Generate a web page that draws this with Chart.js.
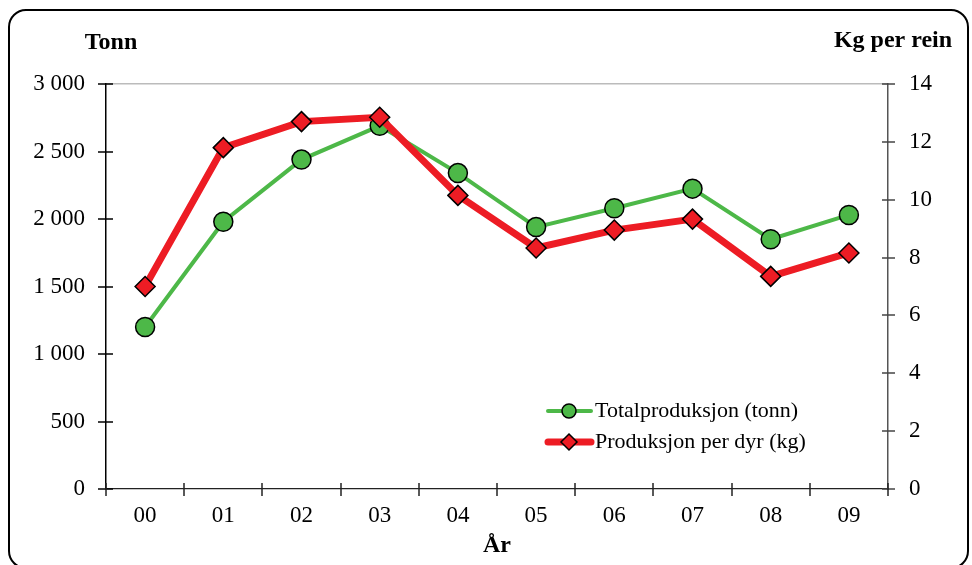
<!DOCTYPE html>
<html>
<head>
<meta charset="utf-8">
<script src="https://cdn.jsdelivr.net/npm/chart.js@4.4.1/dist/chart.umd.min.js"></script>
<style>
  html, body { margin: 0; padding: 0; background: #fff; }
  #wrap { position: relative; width: 972px; height: 565px; overflow: hidden; }
  #frame { position: absolute; left: 8px; top: 9px; width: 961px; height: 560px;
           border: 2px solid #000; border-radius: 18px; box-sizing: border-box; }
  #c { position: absolute; left: 0; top: 0; }
</style>
</head>
<body>
<div id="wrap">
  <div id="frame"></div>
  <canvas id="c" width="972" height="565"></canvas>
</div>
<script>
const years = ["00", "01", "02", "03", "04", "05", "06", "07", "08", "09"];
const totalTonn = [1200, 1980, 2440, 2690, 2340, 1940, 2080, 2225, 1850, 2030];
const kgPerDyr = [7.0, 11.8, 12.7, 12.85, 10.15, 8.33, 8.95, 9.33, 7.35, 8.16];
const leftTicks = [0, 500, 1000, 1500, 2000, 2500, 3000];
const rightTicks = [0, 2, 4, 6, 8, 10, 12, 14];

const GREEN = "#4db848";
const RED = "#ed1c24";
const FONT = "'Liberation Serif', 'Times New Roman', serif";

function fmt(v) {
  return String(v).replace(/\B(?=(\d{3})+(?!\d))/g, " ");
}

// tick marks crossing the axes, axis titles and the legend
const decor = {
  id: "decor",
  afterDraw(chart) {
    const ctx = chart.ctx;
    const { x, y, y1 } = chart.scales;
    ctx.save();
    ctx.lineWidth = 1.5;

    ctx.strokeStyle = "#000";
    leftTicks.forEach((v) => {
      const py = Math.round(y.getPixelForValue(v));
      ctx.beginPath(); ctx.moveTo(y.right - 8, py); ctx.lineTo(y.right + 7, py); ctx.stroke();
    });
    ctx.strokeStyle = "#444";
    rightTicks.forEach((v) => {
      const py = Math.round(y1.getPixelForValue(v));
      ctx.beginPath(); ctx.moveTo(y1.left - 6, py); ctx.lineTo(y1.left + 7, py); ctx.stroke();
    });
    ctx.strokeStyle = "#222";
    const step = (x.right - x.left) / years.length;
    for (let i = 0; i <= years.length; i++) {
      const px = Math.round(x.left + i * step);
      ctx.beginPath(); ctx.moveTo(px, x.top - 6); ctx.lineTo(px, x.top + 7); ctx.stroke();
    }

    ctx.fillStyle = "#000";
    ctx.font = "bold 24px " + FONT;
    ctx.textAlign = "center";
    ctx.textBaseline = "middle";
    ctx.fillText("Tonn", 111, 43);
    ctx.fillText("Kg per rein", 893, 41);
    ctx.fillText("År", (x.left + x.right) / 2, 546);

    // legend
    const items = [
      { label: "Totalproduksjon (tonn)", ds: chart.data.datasets[1], y: 411 },
      { label: "Produksjon per dyr (kg)", ds: chart.data.datasets[0], y: 442 },
    ];
    items.forEach((it) => {
      ctx.strokeStyle = it.ds.borderColor;
      ctx.lineWidth = it.ds.borderWidth;
      ctx.lineCap = "round";
      ctx.beginPath(); ctx.moveTo(548, it.y); ctx.lineTo(591, it.y); ctx.stroke();
      ctx.fillStyle = it.ds.pointBackgroundColor;
      ctx.strokeStyle = "#000";
      ctx.lineWidth = 1.5;
      ctx.beginPath();
      if (it.ds.pointStyle === "circle") {
        ctx.arc(569, it.y, 7, 0, Math.PI * 2);
      } else {
        ctx.moveTo(569, it.y - 8); ctx.lineTo(577, it.y); ctx.lineTo(569, it.y + 8); ctx.lineTo(561, it.y); ctx.closePath();
      }
      ctx.fill(); ctx.stroke();
      ctx.fillStyle = "#000";
      ctx.font = "22px " + FONT;
      ctx.textAlign = "left";
      ctx.fillText(it.label, 595, it.y);
    });
    ctx.restore();
  },
};

new Chart(document.getElementById("c"), {
  type: "line",
  data: {
    labels: years,
    datasets: [
      {
        label: "Produksjon per dyr (kg)",
        data: kgPerDyr,
        yAxisID: "y1",
        borderColor: RED,
        borderWidth: 7,
        pointStyle: "rectRot",
        pointRadius: 10,
        pointBackgroundColor: RED,
        pointBorderColor: "#000",
        pointBorderWidth: 1.5,
        tension: 0,
        order: 0,
      },
      {
        label: "Totalproduksjon (tonn)",
        data: totalTonn,
        yAxisID: "y",
        borderColor: GREEN,
        borderWidth: 4,
        pointStyle: "circle",
        pointRadius: 9.5,
        pointBackgroundColor: GREEN,
        pointBorderColor: "#000",
        pointBorderWidth: 1.5,
        tension: 0,
        order: 1,
      },
    ],
  },
  options: {
    responsive: false,
    animation: false,
    layout: { padding: { top: 84, left: 0, right: 0, bottom: 0 } },
    plugins: { legend: { display: false }, tooltip: { enabled: false } },
    scales: {
      x: {
        offset: true,
        afterFit: (s) => { s.height = 76; },
        grid: { display: false, drawTicks: false },
        border: { display: true, color: "#222", width: 1.3 },
        ticks: { color: "#000", font: { family: FONT, size: 23 }, padding: 13, maxRotation: 0 },
      },
      y: {
        position: "left",
        min: 0, max: 3000,
        afterFit: (s) => { s.width = 106; },
        afterBuildTicks: (s) => { s.ticks = leftTicks.map((v) => ({ value: v })); },
        grid: {
          drawTicks: false,
          color: (c) => (c.tick && c.tick.value === 3000 ? "#bbbbbb" : "rgba(0,0,0,0)"),
          lineWidth: 1.5,
        },
        border: { display: true, color: "#000", width: 1.5 },
        ticks: { color: "#000", font: { family: FONT, size: 23 }, padding: 21, callback: (v) => fmt(v) },
      },
      y1: {
        position: "right",
        min: 0, max: 14,
        afterFit: (s) => { s.width = 84; },
        afterBuildTicks: (s) => { s.ticks = rightTicks.map((v) => ({ value: v })); },
        grid: { drawOnChartArea: false, drawTicks: false },
        border: { display: true, color: "#555", width: 1.5 },
        ticks: { color: "#000", font: { family: FONT, size: 23 }, padding: 21 },
      },
    },
  },
  plugins: [decor],
});
</script>
</body>
</html>
